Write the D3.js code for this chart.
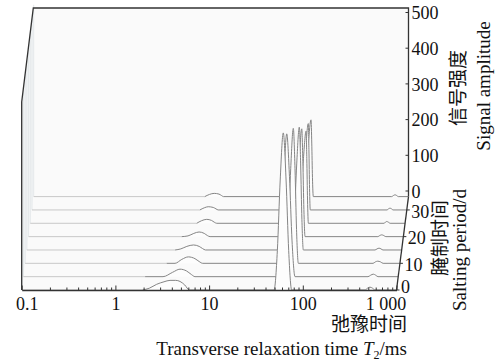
<!DOCTYPE html>
<html>
<head>
<meta charset="utf-8">
<script src="https://cdn.jsdelivr.net/npm/d3@7"></script>
<style>
  body { margin: 0; background: #fff; }
  text { fill: #111; }
</style>
</head>
<body>
<script>
// salting days (one slice each), front to back
const days = [0, 5, 10, 15, 20, 25, 30, 35];

// T2 spectra: [T2 (ms), amplitude]
const day0 = [[1.95,0],[2.3,5],[2.76,16],[3.3,23],[3.83,27],[4.4,27],[4.89,24],[5.5,14],[6.15,0],
  [49.3,0],[53.5,110],[57.4,308],[61.9,440],[66.3,308],[70.7,110],[76.1,0],
  [461,0],[490,5],[521,8],[555,5],[590,0],[1000,0]];
const day5 = [[1.99,0],[3.09,0],[3.9,12],[4.69,21],[5.5,16],[6.2,6],[6.78,0],
  [52.4,0],[56.5,100],[60.3,280],[64.6,400],[69.1,280],[73.6,100],[79.2,0],
  [476,0],[508,4],[542,7],[575,4],[608,0],[1000,0]];
const day10 = [[3.24,0],[3.98,0],[4.7,11],[5.52,18],[6.5,13],[7.2,5],[7.85,0],
  [59.8,0],[64.2,95],[68.3,265],[72.8,378],[75.9,265],[78.8,95],[82.4,0],
  [517,0],[547,4],[580,6],[620,4],[661,0],[1000,0]];
const day15 = [[3.82,0],[4.4,3],[5.1,10],[6.0,14],[6.9,10],[7.5,4],[8.07,0],
  [66.5,0],[71.4,86],[75.9,241],[80.9,344],[83.6,241],[86.2,86],[89.3,0],
  [520,0],[546,3],[574,5],[602,3],[632,0],[1000,0]];
const day20 = [[4.31,0],[5.03,2],[5.8,9],[6.6,13],[7.5,9],[8.1,3],[8.65,0],
  [67.7,0],[72.6,76],[77.2,211],[82.4,302],[84.6,211],[86.8,76],[89.3,0],
  [535,0],[560,3],[588,5],[618,3],[650,0],[1000,0]];
const day25 = [[5.98,0],[6.7,7],[7.65,11],[8.6,8],[9.2,3],[9.77,0],
  [72.1,0],[77.4,65],[82.3,181],[87.8,258],[89.4,181],[91.0,65],[92.9,0],
  [597,0],[617,3],[637,5],[664,3],[692,0],[1000,0]];
const day30 = [[6.2,0],[6.9,6],[7.6,9],[8.6,7],[9.2,3],[9.7,0],
  [73.0,0],[78.4,60],[83.3,169],[88.9,242],[90.3,169],[91.7,60],[93.3,0],
  [615,0],[638,3],[662,5],[688,3],[713,0],[1000,0]];
const day35 = [[6.7,0],[7.5,6],[8.45,9],[9.5,7],[10.1,3],[10.6,0],
  [74.8,0],[80.3,54],[85.4,150],[91.1,215],[92.8,150],[94.4,54],[96.4,0],
  [662,0],[690,3],[718,5],[748,3],[778,0],[1000,0]];
const spectra = [day0, day5, day10, day15, day20, day25, day30, day35];

// axis ticks
const t2Ticks = [0.1, 1, 10, 100, 1000];
const t2Labels = ['0.1', '1', '10', '100', '1 000'];
const ampTicks = [0, 100, 200, 300, 400, 500];
const dayTicks = [0, 10, 20, 30];

const width = 495, height = 361;
const serif = '"Liberation Serif", "Times New Roman", serif';
const cjk = '"Noto Sans CJK SC", sans-serif';

const svg = d3.select('body').append('svg')
  .attr('width', width)
  .attr('height', height);

// scales
const x = d3.scaleLog().domain([0.1, 1000]).range([21.7, 396.5]);
const yAmp = d3.scaleLinear().domain([0, 500]).range([190.5, 12]);
const amp = d3.scaleLinear().domain([0, 500]).range([0, 178.5]);
const depthX = d3.scaleLinear().domain([0, 35]).range([0, 12]);
const depthY = d3.scaleLinear().domain([0, 35]).range([290, 196.6]);

const x0 = x(0.1), x1 = x(1000);
const backX = x0 + depthX(35) - 0.4;
const topY = 8;
const rightX = x1 + depthX(35);

// plot box background
svg.append('path')
  .attr('d', `M${x0},${depthY(0)} L${x0},102 L${backX},${topY} L${rightX},${topY} L${rightX},${depthY(35)} L${x1},${depthY(0)} Z`)
  .attr('fill', '#fafafa');

// left wall, faint
svg.append('path')
  .attr('d', `M${x0},${depthY(0)} L${x0},102 L${backX},${topY} L${backX},${depthY(35)} Z`)
  .attr('fill', '#f4f6f7');
days.forEach(d => {
  const lx = x0 + depthX(d);
  const ly = 102 - (lx - x0) / (backX - x0) * (102 - topY);
  svg.append('line')
    .attr('x1', lx).attr('x2', lx)
    .attr('y1', depthY(d)).attr('y2', ly)
    .attr('stroke', '#e4e8ea').attr('stroke-width', 1);
});

// slices, back to front
const slices = svg.append('g');
days.map((d, i) => [d, spectra[i]]).reverse().forEach(([d, pts]) => {
  const ox = depthX(d), by = depthY(d);
  const area = d3.area()
    .x(p => x(p[0]) + ox)
    .y0(by)
    .y1(p => by - amp(p[1]))
    .curve(d3.curveMonotoneX);
  const line = d3.line()
    .x(p => x(p[0]) + ox)
    .y(p => by - amp(p[1]))
    .curve(d3.curveMonotoneX);

  slices.append('path')
    .attr('d', area(pts))
    .attr('fill', '#fdfdfd');
  slices.append('line')
    .attr('x1', x0 + ox).attr('x2', x(pts[0][0]) + ox)
    .attr('y1', by).attr('y2', by)
    .attr('stroke', '#c8c8c8');
  slices.append('path')
    .attr('d', line(pts))
    .attr('fill', 'none')
    .attr('stroke', '#858585')
    .attr('stroke-width', 1);
});

// frame lines
const frame = svg.append('g').attr('stroke', '#333').attr('stroke-width', 1.3).attr('fill', 'none');
frame.append('path').attr('d', `M${x0},${depthY(0)} L${x0},102 L${backX},${topY} L${rightX},${topY} L${rightX},${depthY(35)}`);
frame.append('path').attr('d', `M${x1},${depthY(0)} L${rightX},${depthY(35)}`);

// bottom axis
const minor = x.ticks().filter(v => !t2Ticks.includes(v));
svg.append('g')
  .attr('transform', `translate(0,${depthY(0)})`)
  .call(d3.axisBottom(x).tickValues(minor).tickSize(-2.5).tickFormat(''))
  .call(g => g.select('.domain').remove())
  .call(g => g.selectAll('line').attr('stroke', '#333'));

const bottom = svg.append('g')
  .attr('transform', `translate(0,${depthY(0)})`)
  .call(d3.axisBottom(x).tickValues(t2Ticks).tickSize(-4.5).tickSizeOuter(0).tickPadding(7)
    .tickFormat((v, i) => t2Labels[i]));
bottom.select('.domain').attr('stroke', '#333').attr('stroke-width', 1.3);
bottom.selectAll('line').attr('stroke', '#333');
bottom.selectAll('text')
  .attr('font-family', serif).attr('font-size', 18).attr('fill', '#111')
  .attr('dx', (v, i) => i === 0 ? 5 : (i === t2Ticks.length - 1 ? -11 : 0));

// amplitude axis on the back right edge
const right = svg.append('g')
  .attr('transform', `translate(${rightX},0)`)
  .call(d3.axisRight(yAmp).tickValues(ampTicks).tickSize(-3).tickPadding(3));
right.select('.domain').remove();
right.selectAll('line').attr('stroke', '#333');
right.selectAll('text')
  .attr('font-family', serif).attr('font-size', 18).attr('fill', '#111')
  .attr('dy', '0.38em');

// salting period axis (depth)
const depth = svg.append('g');
dayTicks.forEach(d => {
  depth.append('line')
    .attr('x1', x1 + depthX(d)).attr('x2', x1 + depthX(d) + 3)
    .attr('y1', depthY(d)).attr('y2', depthY(d))
    .attr('stroke', '#333');
  depth.append('text')
    .attr('x', x1 + depthX(d) + 4.5)
    .attr('y', depthY(d) + (d === 0 ? -3.5 : 1.5))
    .attr('dy', '0.35em')
    .attr('font-family', serif).attr('font-size', 18)
    .text(d);
});

// axis titles
svg.append('text')
  .attr('x', 407).attr('y', 331)
  .attr('text-anchor', 'end')
  .attr('font-family', cjk).attr('font-size', 19)
  .text('弛豫时间');

const xt = svg.append('text')
  .attr('x', 407).attr('y', 355)
  .attr('text-anchor', 'end')
  .attr('font-family', serif).attr('font-size', 19);
xt.append('tspan').text('Transverse relaxation time ');
xt.append('tspan').attr('font-style', 'italic').text('T');
xt.append('tspan').attr('font-size', 12).attr('dy', 4).text('2');
xt.append('tspan').attr('dy', -4).text('/ms');

svg.append('text')
  .attr('transform', 'translate(458,88) rotate(-90)')
  .attr('text-anchor', 'middle').attr('dy', '0.35em')
  .attr('font-family', cjk).attr('font-size', 19)
  .text('信号强度');
svg.append('text')
  .attr('transform', 'translate(483,86) rotate(-90)')
  .attr('text-anchor', 'middle').attr('dy', '0.35em')
  .attr('font-family', serif).attr('font-size', 19)
  .text('Signal amplitude');

svg.append('text')
  .attr('transform', 'translate(440,238) rotate(-90)')
  .attr('text-anchor', 'middle').attr('dy', '0.35em')
  .attr('font-family', cjk).attr('font-size', 19)
  .text('腌制时间');
svg.append('text')
  .attr('transform', 'translate(459,250) rotate(-90)')
  .attr('text-anchor', 'middle').attr('dy', '0.35em')
  .attr('font-family', serif).attr('font-size', 19)
  .text('Salting period/d');
</script>
</body>
</html>
